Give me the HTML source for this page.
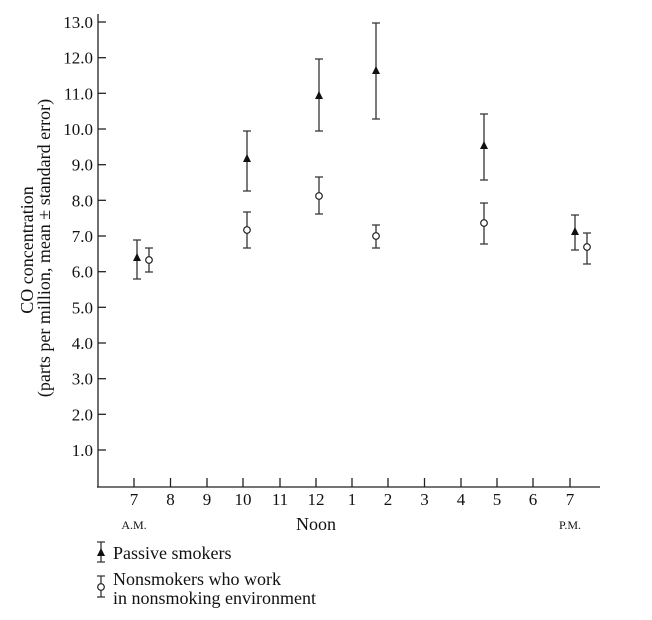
<!DOCTYPE html>
<html><head><style>body{margin:0;background:#fff}</style></head><body>
<svg width="652" height="615" xmlns="http://www.w3.org/2000/svg" font-family="Liberation Serif, serif" fill="#111">
<g stroke="#222" stroke-width="1.3">
<line x1="98" y1="14" x2="98" y2="487"/>
<line x1="97" y1="487" x2="600" y2="487"/>
<line x1="98" y1="22" x2="106" y2="22"/><line x1="98" y1="57.7" x2="106" y2="57.7"/><line x1="98" y1="93.3" x2="106" y2="93.3"/><line x1="98" y1="129" x2="106" y2="129"/><line x1="98" y1="164.7" x2="106" y2="164.7"/><line x1="98" y1="200.3" x2="106" y2="200.3"/><line x1="98" y1="236" x2="106" y2="236"/><line x1="98" y1="271.7" x2="106" y2="271.7"/><line x1="98" y1="307.3" x2="106" y2="307.3"/><line x1="98" y1="343" x2="106" y2="343"/><line x1="98" y1="378.7" x2="106" y2="378.7"/><line x1="98" y1="414.3" x2="106" y2="414.3"/><line x1="98" y1="450" x2="106" y2="450"/>
<line x1="134" y1="487" x2="134" y2="478"/><line x1="170.5" y1="487" x2="170.5" y2="478"/><line x1="207" y1="487" x2="207" y2="478"/><line x1="243" y1="487" x2="243" y2="478"/><line x1="280" y1="487" x2="280" y2="478"/><line x1="316" y1="487" x2="316" y2="478"/><line x1="352" y1="487" x2="352" y2="478"/><line x1="388" y1="487" x2="388" y2="478"/><line x1="424.5" y1="487" x2="424.5" y2="478"/><line x1="461" y1="487" x2="461" y2="478"/><line x1="497" y1="487" x2="497" y2="478"/><line x1="533" y1="487" x2="533" y2="478"/><line x1="570" y1="487" x2="570" y2="478"/>
</g>
<g font-size="17" text-anchor="end">
<text x="93" y="28">13.0</text><text x="93" y="63.7">12.0</text><text x="93" y="99.3">11.0</text><text x="93" y="135">10.0</text><text x="93" y="170.7">9.0</text><text x="93" y="206.3">8.0</text><text x="93" y="242">7.0</text><text x="93" y="277.7">6.0</text><text x="93" y="313.3">5.0</text><text x="93" y="349">4.0</text><text x="93" y="384.7">3.0</text><text x="93" y="420.3">2.0</text><text x="93" y="456">1.0</text>
</g>
<g font-size="17" text-anchor="middle">
<text x="134" y="505">7</text><text x="170.5" y="505">8</text><text x="207" y="505">9</text><text x="243" y="505">10</text><text x="280" y="505">11</text><text x="316" y="505">12</text><text x="352" y="505">1</text><text x="388" y="505">2</text><text x="424.5" y="505">3</text><text x="461" y="505">4</text><text x="497" y="505">5</text><text x="533" y="505">6</text><text x="570" y="505">7</text>
<text x="134" y="529" font-size="12">A.M.</text><text x="316" y="530" font-size="18">Noon</text><text x="570" y="529" font-size="12">P.M.</text>
</g>
<g font-size="18" text-anchor="middle">
<text transform="translate(33,250) rotate(-90)">CO concentration</text>
<text transform="translate(50,248) rotate(-90)">(parts per million, mean ± standard error)</text>
</g>
<g stroke="#333" stroke-width="1.3" fill="none">
<path d="M137 240V279M133 240H141M133 279H141"/>
<path d="M149 248V272M145 248H153M145 272H153"/>
<path d="M247 131V191M243 131H251M243 191H251"/>
<path d="M247 212V248M243 212H251M243 248H251"/>
<path d="M319 59V131M315 59H323M315 131H323"/>
<path d="M319 177V214M315 177H323M315 214H323"/>
<path d="M376 23V119M372 23H380M372 119H380"/>
<path d="M376 225V248M372 225H380M372 248H380"/>
<path d="M484 114V180M480 114H488M480 180H488"/>
<path d="M484 203V244M480 203H488M480 244H488"/>
<path d="M575 215V250M571 215H579M571 250H579"/>
<path d="M587 233V264M583 233H591M583 264H591"/>
<path d="M101 542V562M97 542H105M97 562H105"/>
<path d="M101 576V597M97 576H105M97 597H105"/>
</g>
<g fill="#111">
<path d="M137 253l-4 8h8z"/><path d="M247 154l-4 8h8z"/><path d="M319 91l-4 8h8z"/><path d="M376 66l-4 8h8z"/><path d="M484 141l-4 8h8z"/><path d="M575 227l-4 8h8z"/><path d="M101 548l-4 8h8z"/>
</g>
<g fill="#fff" stroke="#222" stroke-width="1.2">
<circle cx="149" cy="260" r="3.3"/><circle cx="247" cy="230" r="3.3"/><circle cx="319" cy="196" r="3.3"/><circle cx="376" cy="236" r="3.3"/><circle cx="484" cy="223" r="3.3"/><circle cx="587" cy="247" r="3.3"/><circle cx="101" cy="587" r="3.3"/>
</g>
<g font-size="18">
<text x="113" y="559">Passive smokers</text>
<text x="113" y="585">Nonsmokers who work</text>
<text x="113" y="604">in nonsmoking environment</text>
</g>
</svg>
</body></html>
